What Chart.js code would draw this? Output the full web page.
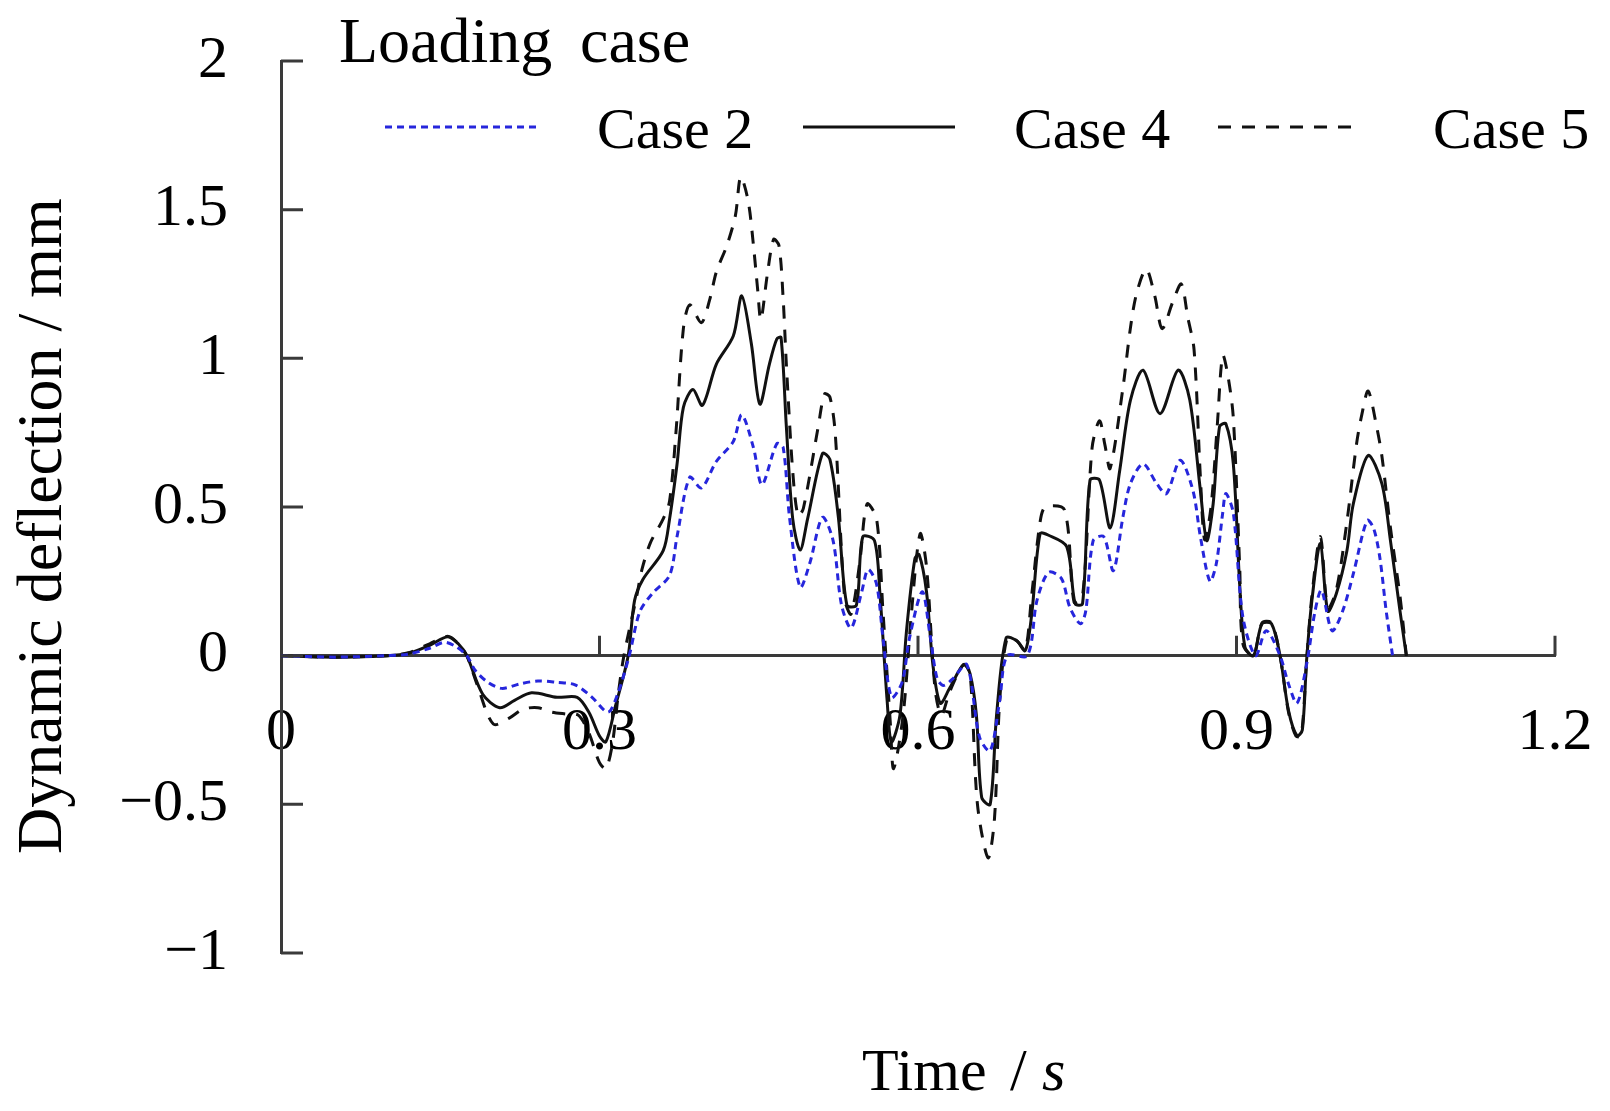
<!DOCTYPE html>
<html>
<head>
<meta charset="utf-8">
<script src="https://cdn.jsdelivr.net/npm/chart.js@4.4.0/dist/chart.umd.min.js"></script>
<style>
  html, body { margin: 0; padding: 0; background: #fff; }
  #wrap { width: 1610px; height: 1111px; }
</style>
</head>
<body>
<div id="wrap"><canvas id="deflectionChart" width="1610" height="1111"></canvas></div>
<script>
// values (time in s, deflection in mm)
const case2Time = [0, 0.05, 0.1, 0.12, 0.14, 0.154, 0.165, 0.175, 0.183, 0.195, 0.208, 0.225, 0.242, 0.26, 0.277, 0.293, 0.308, 0.317, 0.328, 0.338, 0.35, 0.366, 0.373, 0.385, 0.396, 0.41, 0.426, 0.434, 0.445, 0.453, 0.467, 0.473, 0.479, 0.489, 0.498, 0.51, 0.52, 0.528, 0.537, 0.547, 0.553, 0.561, 0.567, 0.575, 0.585, 0.592, 0.604, 0.611, 0.618, 0.624, 0.633, 0.646, 0.658, 0.668, 0.677, 0.684, 0.703, 0.712, 0.723, 0.735, 0.743, 0.753, 0.758, 0.765, 0.775, 0.784, 0.793, 0.8, 0.812, 0.825, 0.834, 0.847, 0.859, 0.866, 0.875, 0.881, 0.887, 0.89, 0.897, 0.906, 0.918, 0.928, 0.941, 0.949, 0.957, 0.966, 0.974, 0.98, 0.99, 1.0, 1.01, 1.023, 1.029, 1.035, 1.041, 1.047];
const case2Defl = [0, -0.005, 0, 0.005, 0.025, 0.045, 0.03, 0, -0.05, -0.09, -0.11, -0.095, -0.085, -0.09, -0.098, -0.14, -0.19, -0.13, 0, 0.148, 0.21, 0.27, 0.40, 0.60, 0.564, 0.653, 0.72, 0.81, 0.70, 0.575, 0.713, 0.70, 0.465, 0.23, 0.31, 0.465, 0.387, 0.17, 0.093, 0.215, 0.29, 0.24, 0.06, -0.14, -0.09, 0.06, 0.215, 0.077, -0.077, -0.1, -0.077, -0.03, -0.275, -0.32, -0.15, 0, 0, 0.185, 0.28, 0.26, 0.163, 0.107, 0.15, 0.387, 0.40, 0.286, 0.466, 0.578, 0.645, 0.578, 0.545, 0.657, 0.555, 0.40, 0.25, 0.31, 0.48, 0.545, 0.48, 0.13, 0, 0.084, 0, -0.095, -0.16, -0.03, 0.15, 0.22, 0.084, 0.15, 0.275, 0.455, 0.43, 0.33, 0.15, 0];

const case4Time = [0, 0.05, 0.1, 0.12, 0.14, 0.157, 0.167, 0.175, 0.19, 0.206, 0.22, 0.236, 0.26, 0.279, 0.29, 0.3, 0.306, 0.315, 0.327, 0.333, 0.341, 0.36, 0.366, 0.373, 0.379, 0.388, 0.397, 0.41, 0.426, 0.434, 0.443, 0.451, 0.46, 0.467, 0.471, 0.476, 0.482, 0.489, 0.496, 0.51, 0.517, 0.525, 0.533, 0.542, 0.548, 0.559, 0.564, 0.571, 0.575, 0.583, 0.589, 0.597, 0.601, 0.608, 0.614, 0.621, 0.63, 0.643, 0.649, 0.655, 0.66, 0.668, 0.674, 0.683, 0.693, 0.701, 0.707, 0.715, 0.723, 0.74, 0.748, 0.755, 0.762, 0.771, 0.781, 0.79, 0.8, 0.812, 0.828, 0.845, 0.856, 0.866, 0.872, 0.878, 0.884, 0.89, 0.897, 0.903, 0.908, 0.916, 0.924, 0.933, 0.941, 0.949, 0.957, 0.962, 0.966, 0.971, 0.979, 0.986, 0.994, 1.004, 1.01, 1.024, 1.037, 1.045, 1.054, 1.06];
const case4Defl = [0, -0.005, 0, 0.008, 0.035, 0.064, 0.04, 0, -0.13, -0.175, -0.15, -0.125, -0.14, -0.14, -0.19, -0.27, -0.29, -0.17, 0, 0.185, 0.257, 0.353, 0.46, 0.643, 0.835, 0.895, 0.842, 0.98, 1.075, 1.21, 1.05, 0.846, 0.98, 1.065, 1.07, 0.77, 0.46, 0.355, 0.46, 0.68, 0.66, 0.465, 0.17, 0.17, 0.4, 0.387, 0.215, -0.155, -0.29, -0.2, 0.077, 0.325, 0.34, 0.215, -0.03, -0.16, -0.108, -0.03, -0.06, -0.2, -0.477, -0.5, -0.2, 0.06, 0.05, 0.017, 0.136, 0.41, 0.405, 0.367, 0.175, 0.175, 0.59, 0.59, 0.43, 0.623, 0.858, 0.96, 0.814, 0.96, 0.86, 0.555, 0.387, 0.51, 0.77, 0.78, 0.645, 0.24, 0.028, 0, 0.107, 0.107, 0, -0.185, -0.27, -0.25, -0.017, 0.185, 0.377, 0.15, 0.208, 0.353, 0.51, 0.673, 0.578, 0.387, 0.15, 0];

const case5Time = [0, 0.05, 0.1, 0.12, 0.14, 0.157, 0.167, 0.175, 0.185, 0.2, 0.215, 0.228, 0.242, 0.255, 0.268, 0.28, 0.29, 0.3, 0.306, 0.312, 0.318, 0.323, 0.335, 0.34, 0.348, 0.36, 0.366, 0.372, 0.379, 0.385, 0.396, 0.404, 0.41, 0.42, 0.428, 0.433, 0.44, 0.445, 0.449, 0.452, 0.458, 0.464, 0.469, 0.473, 0.476, 0.482, 0.487, 0.492, 0.506, 0.512, 0.517, 0.522, 0.531, 0.537, 0.545, 0.552, 0.561, 0.567, 0.574, 0.577, 0.586, 0.594, 0.602, 0.608, 0.616, 0.622, 0.63, 0.643, 0.649, 0.656, 0.666, 0.672, 0.677, 0.684, 0.693, 0.701, 0.707, 0.715, 0.72, 0.738, 0.747, 0.755, 0.764, 0.771, 0.776, 0.781, 0.793, 0.8, 0.806, 0.815, 0.823, 0.83, 0.84, 0.848, 0.854, 0.86, 0.866, 0.87, 0.876, 0.882, 0.887, 0.892, 0.897, 0.903, 0.906, 0.916, 0.924, 0.933, 0.941, 0.949, 0.956, 0.961, 0.966, 0.971, 0.979, 0.986, 0.994, 1.004, 1.013, 1.018, 1.024, 1.032, 1.037, 1.045, 1.054, 1.06];
const case5Defl = [0, -0.005, 0, 0.01, 0.04, 0.065, 0.04, 0, -0.1, -0.23, -0.21, -0.18, -0.175, -0.19, -0.196, -0.2, -0.26, -0.36, -0.38, -0.3, -0.12, 0, 0.2, 0.29, 0.38, 0.46, 0.52, 0.75, 1.1, 1.18, 1.12, 1.2, 1.29, 1.38, 1.48, 1.61, 1.53, 1.38, 1.23, 1.13, 1.28, 1.4, 1.38, 1.2, 0.98, 0.62, 0.47, 0.495, 0.77, 0.88, 0.87, 0.75, 0.19, 0.14, 0.31, 0.51, 0.46, 0.15, -0.23, -0.38, -0.2, 0.15, 0.41, 0.3, -0.11, -0.2, -0.12, -0.03, -0.06, -0.5, -0.68, -0.55, -0.15, 0.06, 0.05, 0.02, 0.2, 0.45, 0.5, 0.49, 0.18, 0.2, 0.7, 0.79, 0.71, 0.63, 0.9, 1.1, 1.22, 1.3, 1.21, 1.1, 1.19, 1.25, 1.14, 1.03, 0.6, 0.39, 0.5, 0.78, 1.01, 0.94, 0.8, 0.3, 0.04, 0, 0.11, 0.11, 0, -0.19, -0.27, -0.27, -0.02, 0.2, 0.4, 0.16, 0.22, 0.45, 0.71, 0.81, 0.89, 0.77, 0.67, 0.43, 0.2, 0];

const caseLabels = ['Case 2', 'Case 4', 'Case 5'];
const xTickValues = [0, 0.3, 0.6, 0.9, 1.2];
const yTickValues = [-1, -0.5, 0, 0.5, 1, 1.5, 2];

const SERIF = "'Liberation Serif', 'DejaVu Serif', serif";

function toPoints(times, values) {
    return times.map((t, i) => ({ x: t, y: values[i] }));
}

function fmtTick(v) {
    const r = Math.round(v * 10) / 10;
    if (r === 0) return '0';
    const s = String(Math.abs(r));
    return r < 0 ? '\u2212' + s : s;
}

// the layout should not reserve extra room for overhanging tick labels
function noPadding(s) {
    s.paddingLeft = 0;
    s.paddingRight = 0;
    s.paddingTop = 0;
    s.paddingBottom = 0;
}

// inward tick marks, axis titles and the legend block
const decorPlugin = {
    id: 'decor',
    afterDraw(chart) {
        const ctx = chart.ctx;
        const xs = chart.scales.x;
        const ys = chart.scales.y;
        const x0 = xs.getPixelForValue(0);
        const y0 = ys.getPixelForValue(0);

        ctx.save();
        ctx.strokeStyle = '#3a3a3a';
        ctx.lineWidth = 3;
        ctx.beginPath();
        yTickValues.forEach(v => {
            const py = ys.getPixelForValue(v);
            ctx.moveTo(x0, py);
            ctx.lineTo(x0 + 22, py);
        });
        xTickValues.forEach(v => {
            if (v === 0) return;
            const px = xs.getPixelForValue(v);
            ctx.moveTo(px, y0);
            ctx.lineTo(px, y0 - 20);
        });
        ctx.stroke();

        ctx.fillStyle = '#000';
        ctx.textBaseline = 'alphabetic';

        // y title
        ctx.save();
        ctx.translate(44, 526);
        ctx.rotate(-Math.PI / 2);
        ctx.font = '64px ' + SERIF;
        ctx.textAlign = 'center';
        ctx.textBaseline = 'middle';
        ctx.fillText('Dynamic deflection / mm', 0, 0);
        ctx.restore();

        // x title with italic unit
        ctx.textAlign = 'left';
        ctx.font = '60px ' + SERIF;
        ctx.fillText('Time', 862, 1090);
        ctx.fillText('/', 1010, 1090);
        ctx.font = 'italic 60px ' + SERIF;
        ctx.fillText('s', 1042, 1090);

        // legend
        ctx.font = '64px ' + SERIF;
        ctx.fillText('Loading', 339, 62);
        ctx.fillText('case', 580, 62);
        const lines = [[385, 538], [803, 955], [1218, 1360]];
        const texts = [597, 1014, 1433];
        ctx.font = '58px ' + SERIF;
        chart.data.datasets.forEach((ds, i) => {
            ctx.save();
            ctx.strokeStyle = ds.borderColor;
            ctx.lineWidth = ds.borderWidth;
            ctx.setLineDash(ds.borderDash || []);
            ctx.beginPath();
            ctx.moveTo(lines[i][0], 127);
            ctx.lineTo(lines[i][1], 127);
            ctx.stroke();
            ctx.restore();
            ctx.fillText(ds.label, texts[i], 148);
        });
        ctx.restore();
    }
};

const ctx = document.getElementById('deflectionChart').getContext('2d');

new Chart(ctx, {
    type: 'line',
    data: {
        datasets: [
            {
                label: caseLabels[0],
                data: toPoints(case2Time, case2Defl),
                borderColor: '#2626dc',
                borderWidth: 3,
                borderDash: [7, 5],
                pointRadius: 0,
                tension: 0.3,
                fill: false
            },
            {
                label: caseLabels[1],
                data: toPoints(case4Time, case4Defl),
                borderColor: '#111111',
                borderWidth: 3,
                pointRadius: 0,
                tension: 0.3,
                fill: false
            },
            {
                label: caseLabels[2],
                data: toPoints(case5Time, case5Defl),
                borderColor: '#111111',
                borderWidth: 3,
                borderDash: [13, 11],
                pointRadius: 0,
                tension: 0.3,
                fill: false
            }
        ]
    },
    options: {
        responsive: false,
        devicePixelRatio: 1,
        animation: false,
        layout: {
            padding: { left: 0, right: 55, top: 61, bottom: 158 }
        },
        plugins: {
            legend: { display: false },
            tooltip: { enabled: false }
        },
        scales: {
            x: {
                type: 'linear',
                position: { y: 0 },
                min: 0,
                max: 1.2,
                afterBuildTicks: s => { s.ticks = xTickValues.map(v => ({ value: v })); },
                afterFit: s => { noPadding(s); s.height = 0; },
                ticks: {
                    autoSkip: false,
                    maxRotation: 0,
                    padding: 42,
                    color: '#000',
                    font: { family: SERIF, size: 60 },
                    callback: v => fmtTick(v)
                },
                grid: { display: true, drawOnChartArea: false, drawTicks: false },
                border: { display: true, color: '#3a3a3a', width: 3 }
            },
            y: {
                position: 'left',
                min: -1,
                max: 2,
                afterBuildTicks: s => { s.ticks = yTickValues.map(v => ({ value: v })); },
                afterFit: s => { noPadding(s); s.width = 281; },
                ticks: {
                    autoSkip: false,
                    padding: 53,
                    color: '#000',
                    font: { family: SERIF, size: 60 },
                    callback: v => fmtTick(v)
                },
                grid: { display: true, drawOnChartArea: false, drawTicks: false },
                border: { display: true, color: '#3a3a3a', width: 3 }
            }
        }
    },
    plugins: [decorPlugin]
});
</script>
</body>
</html>
